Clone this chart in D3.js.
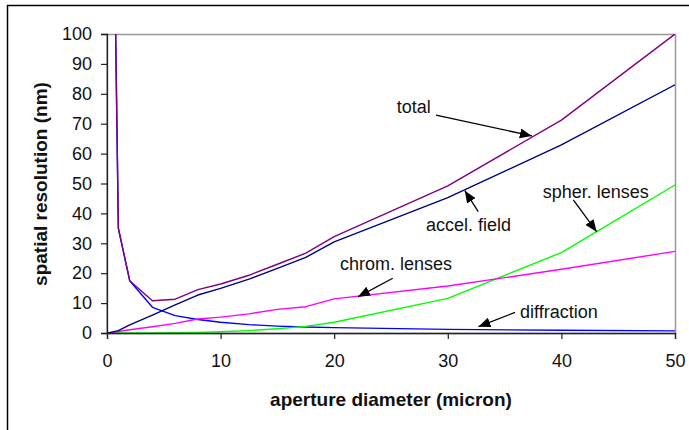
<!DOCTYPE html>
<html>
<head>
<meta charset="utf-8">
<script src="https://cdn.jsdelivr.net/npm/d3@7"></script>
<style>
  body { margin: 0; background: #fff; }
  text { font-family: Arial, "Liberation Sans", sans-serif; }
</style>
</head>
<body>
<script>
// aperture diameter (micron)
const diameters = [0.1, 1, 2, 4, 6, 8, 10, 12.5, 15, 17.5, 20, 30, 40, 50];

// spatial resolution contributions (nm)
const total       = [280, 35, 17.5, 10.8, 11.3, 14.5, 16.4, 19.3, 23, 26.7, 32.2, 49.2, 71.2, 100];
const accelField  = [0.05, 0.8, 2.7, 6, 9.4, 12.7, 14.9, 18, 21.6, 25.3, 30.5, 45.3, 62.9, 83];
const diffraction = [279, 35, 17.5, 8.6, 5.8, 4.5, 3.6, 2.8, 2.3, 2.0, 1.8, 1.2, 0.9, 0.7];
const chromLenses = [0.05, 0.5, 1.1, 2.1, 3.2, 4.7, 5.3, 6.4, 7.9, 8.8, 11.4, 15.7, 21.3, 27.3];
const spherLenses = [0, 0, 0, 0, 0.1, 0.2, 0.4, 0.8, 1.4, 2.2, 3.6, 11.6, 26.9, 49.5];

const xTicks = [0, 10, 20, 30, 40, 50];
const yTicks = [0, 10, 20, 30, 40, 50, 60, 70, 80, 90, 100];

// annotations: label position and arrow (from -> tip), in data units
const labels = [
  { text: 'total',         x: 25.5,  y: 73.6, from: [28.96, 72.9], to: [37.4, 65.9] },
  { text: 'accel. field',  x: 28.08, y: 34.1, from: [32.68, 40.6], to: [31.5, 47.6] },
  { text: 'spher. lenses', x: 38.35, y: 45.0, from: [41.05, 44.5], to: [43.1, 33.9] },
  { text: 'chrom. lenses', x: 20.51, y: 21.1, from: [25.15, 18.3], to: [22.1, 12.1] },
  { text: 'diffraction',   x: 36.36, y: 5.0,  from: [35.92, 6.9],  to: [32.7, 2.1] }
];

const series = [
  { name: 'diffraction', values: diffraction, color: '#0000ff' },
  { name: 'spher', values: spherLenses, color: '#00ff00' },
  { name: 'chrom', values: chromLenses, color: '#ff00ff' },
  { name: 'accel', values: accelField, color: '#000080' },
  { name: 'total', values: total, color: '#800080' }
];

let width = 689,
    height = 430;

const margin = { left: 107, top: 34, right: 14, bottom: 97 };

const x = d3.scaleLinear()
    .domain([0, 50])
    .range([margin.left, width - margin.right]);

const y = d3.scaleLinear()
    .domain([0, 100])
    .range([height - margin.bottom, margin.top]);

const svg = d3.select('body').append('svg')
    .attr('width', width)
    .attr('height', height);

// outer chart border
svg.append('rect')
    .attr('x', 7.5)
    .attr('y', 5.5)
    .attr('width', 800)
    .attr('height', 600)
    .attr('fill', 'none')
    .attr('stroke', '#000')
    .attr('stroke-width', 1.5);

svg.append('defs').append('clipPath')
    .attr('id', 'plot-clip')
    .append('rect')
    .attr('x', x(0))
    .attr('y', y(100))
    .attr('width', x(50) - x(0))
    .attr('height', y(0) - y(100));

svg.append('defs').append('marker')
    .attr('id', 'arrow')
    .attr('viewBox', '0 0 12 10')
    .attr('refX', 12)
    .attr('refY', 5)
    .attr('markerWidth', 12)
    .attr('markerHeight', 10)
    .attr('markerUnits', 'userSpaceOnUse')
    .attr('orient', 'auto')
    .append('path')
    .attr('d', 'M0,0 L12,5 L0,10 Z')
    .attr('fill', '#000');

// plot area frame
svg.append('rect')
    .attr('x', x(0))
    .attr('y', y(100) + 0.5)
    .attr('width', x(50) - x(0) + 0.5)
    .attr('height', y(0) - y(100))
    .attr('fill', 'none')
    .attr('stroke', '#999')
    .attr('stroke-width', 1.5);

const line = d3.line()
    .x(function (d, i) { return x(diameters[i]); })
    .y(function (d) { return y(d); });

svg.append('g')
    .attr('clip-path', 'url(#plot-clip)')
    .selectAll('path')
    .data(series)
    .enter().append('path')
    .attr('d', function (d) { return line(d.values); })
    .attr('fill', 'none')
    .attr('stroke', function (d) { return d.color; })
    .attr('stroke-width', 1.4)
    .attr('stroke-linejoin', 'round');

// axes
const xAxis = svg.append('g')
    .attr('transform', 'translate(0,' + y(0) + ')')
    .call(d3.axisBottom(x).tickValues(xTicks).tickSize(6).tickPadding(15));

const yAxis = svg.append('g')
    .attr('transform', 'translate(' + x(0) + ',0)')
    .call(d3.axisLeft(y).tickValues(yTicks).tickSize(6).tickPadding(9));

[xAxis, yAxis].forEach(function (a) {
    a.select('.domain').attr('stroke', '#222').attr('stroke-width', 1.3);
    a.selectAll('.tick line').attr('stroke', '#222').attr('stroke-width', 1.2);
    a.selectAll('.tick text')
        .attr('fill', '#111')
        .style('font-size', '18px')
        .style('font-family', 'Arial, "Liberation Sans", sans-serif');
});

svg.append('text')
    .attr('x', (x(0) + x(50)) / 2)
    .attr('y', 406)
    .attr('text-anchor', 'middle')
    .attr('font-weight', 'bold')
    .attr('font-size', 19)
    .attr('fill', '#111')
    .text('aperture diameter (micron)');

svg.append('text')
    .attr('transform', 'translate(47,184) rotate(-90)')
    .attr('text-anchor', 'middle')
    .attr('font-weight', 'bold')
    .attr('font-size', 19)
    .attr('fill', '#111')
    .text('spatial resolution (nm)');

// annotations
const notes = svg.append('g');

notes.selectAll('line')
    .data(labels)
    .enter().append('line')
    .attr('x1', function (d) { return x(d.from[0]); })
    .attr('y1', function (d) { return y(d.from[1]); })
    .attr('x2', function (d) { return x(d.to[0]); })
    .attr('y2', function (d) { return y(d.to[1]); })
    .attr('stroke', '#000')
    .attr('stroke-width', 1.3)
    .attr('marker-end', 'url(#arrow)');

notes.selectAll('text')
    .data(labels)
    .enter().append('text')
    .attr('x', function (d) { return x(d.x); })
    .attr('y', function (d) { return y(d.y); })
    .attr('font-size', 18)
    .attr('fill', '#111')
    .text(function (d) { return d.text; });
</script>
</body>
</html>
